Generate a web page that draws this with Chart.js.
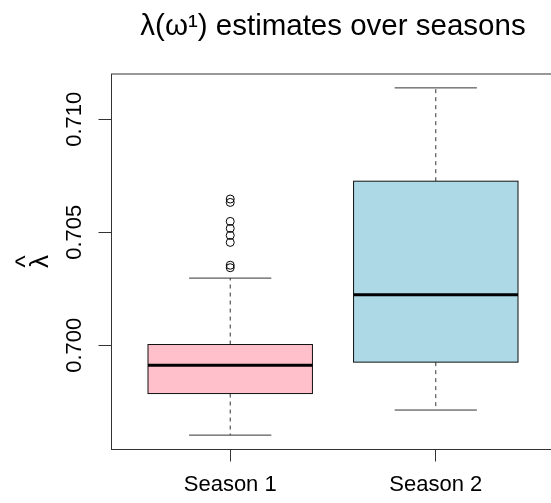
<!DOCTYPE html>
<html>
<head>
<meta charset="utf-8">
<script src="https://cdn.jsdelivr.net/npm/chart.js@4.4.1/dist/chart.umd.min.js"></script>
<style>
  html, body { margin: 0; padding: 0; overflow: hidden; background: #fff; }
  body { width: 551px; height: 503px; }
  canvas { display: block; }
</style>
</head>
<body>
<canvas id="myChart" width="560" height="503"></canvas>
<script>
// data
const seasons = ['Season 1', 'Season 2'];
const boxColors = ['#FFC0CB', '#ADD8E6'];
const lowerWhisker = [0.69602, 0.69713];
const q1 = [0.69786, 0.69925];
const medians = [0.69911, 0.70223];
const q3 = [0.70003, 0.70726];
const upperWhisker = [0.70297, 0.71139];
const outlierSeason = [1, 1, 1, 1, 1, 1, 1, 1];
const outlierValues = [0.70647, 0.70632, 0.70548, 0.70517, 0.70486, 0.70455, 0.70354, 0.70343];
const yTicks = [0.700, 0.705, 0.710];

// R-style axis limits (4% extension)
const allVals = [...lowerWhisker, ...upperWhisker, ...outlierValues];
const lo = Math.min(...allVals), hi = Math.max(...allVals);
const yMin = lo - 0.04 * (hi - lo);
const yMax = hi + 0.04 * (hi - lo);
const xMin = 0.5 - 0.04 * seasons.length;
const xMax = seasons.length + 0.5 + 0.04 * seasons.length;

Chart.defaults.font.family = '"Liberation Sans", Arial, sans-serif';
Chart.defaults.color = '#000';

const lineCol = '#333';

function seg(ctx, x1, y1, x2, y2) {
  ctx.beginPath();
  ctx.moveTo(x1, y1);
  ctx.lineTo(x2, y2);
  ctx.stroke();
}

// draws boxes, whiskers, staples and medians through the chart scales
const boxPlugin = {
  id: 'boxes',
  beforeDatasetsDraw(chart) {
    const { ctx, scales: { x, y } } = chart;
    ctx.save();
    seasons.forEach((s, i) => {
      const pos = i + 1;
      const cx = x.getPixelForValue(pos);
      const left = x.getPixelForValue(pos - 0.4);
      const right = x.getPixelForValue(pos + 0.4);
      const capL = x.getPixelForValue(pos - 0.2);
      const capR = x.getPixelForValue(pos + 0.2);
      const yTop = y.getPixelForValue(q3[i]);
      const yBot = y.getPixelForValue(q1[i]);
      const yUp = y.getPixelForValue(upperWhisker[i]);
      const yLo = y.getPixelForValue(lowerWhisker[i]);
      const yMed = y.getPixelForValue(medians[i]);

      ctx.strokeStyle = lineCol;
      ctx.lineWidth = 1;
      ctx.setLineDash([4, 4]);
      seg(ctx, cx, yTop, cx, yUp);
      seg(ctx, cx, yBot, cx, yLo);
      ctx.setLineDash([]);
      seg(ctx, capL, yUp, capR, yUp);
      seg(ctx, capL, yLo, capR, yLo);

      ctx.fillStyle = boxColors[i];
      ctx.fillRect(left, yTop, right - left, yBot - yTop);
      ctx.strokeStyle = '#111';
      ctx.strokeRect(left, yTop, right - left, yBot - yTop);

      ctx.strokeStyle = '#000';
      ctx.lineWidth = 3;
      seg(ctx, left, yMed, right, yMed);
    });
    ctx.restore();
  },
  afterDatasetsDraw(chart) {
    // top edge of the frame
    const { ctx, chartArea } = chart;
    ctx.save();
    ctx.strokeStyle = lineCol;
    ctx.lineWidth = 1;
    seg(ctx, chartArea.left, chartArea.top, chartArea.right, chartArea.top);
    ctx.restore();
  }
};

const ctx = document.getElementById('myChart').getContext('2d');
new Chart(ctx, {
  type: 'scatter',
  data: {
    datasets: [{
      label: 'outliers',
      data: outlierValues.map((v, k) => ({ x: outlierSeason[k], y: v })),
      pointStyle: 'circle',
      pointRadius: 4,
      borderColor: '#000',
      backgroundColor: 'rgba(0,0,0,0)',
      borderWidth: 1
    }]
  },
  options: {
    responsive: false,
    animation: false,
    events: [],
    layout: { padding: { left: 0, right: 3, top: 0, bottom: 0 } },
    plugins: {
      legend: { display: false },
      tooltip: { enabled: false },
      title: {
        display: true,
        text: 'λ(ω¹) estimates over seasons',
        fullSize: false,
        font: { size: 29.5, weight: 'normal' },
        color: '#000',
        padding: { top: 9.1, bottom: 29.5 }
      }
    },
    scales: {
      x: {
        type: 'linear',
        min: xMin,
        max: xMax,
        afterBuildTicks: s => { s.ticks = seasons.map((_, i) => ({ value: i + 1 })); },
        afterFit: s => { s.height = 54; },
        grid: { drawOnChartArea: false, drawTicks: true, tickLength: 12.5, color: lineCol },
        border: { display: true, color: lineCol, width: 1 },
        ticks: {
          autoSkip: false,
          maxRotation: 0,
          padding: 10.5,
          font: { size: 22 },
          color: '#000',
          callback: v => seasons[v - 1]
        }
      },
      y: {
        type: 'linear',
        min: yMin,
        max: yMax,
        afterBuildTicks: s => { s.ticks = yTicks.map(v => ({ value: v })); },
        afterFit: s => { s.width = 111; },
        grid: { drawOnChartArea: false, drawTicks: true, tickLength: 12.5, color: lineCol },
        border: { display: true, color: lineCol, width: 1 },
        ticks: {
          autoSkip: false,
          minRotation: 90,
          maxRotation: 90,
          crossAlign: 'center',
          padding: -4.4,
          font: { size: 22 },
          color: '#000',
          callback: v => v.toFixed(3)
        },
        title: {
          display: true,
          text: ['^', 'λ'],
          font: { size: 26, lineHeight: 0.54 },
          color: '#000',
          padding: { top: 20, bottom: 0 }
        }
      }
    }
  },
  plugins: [boxPlugin]
});
</script>
</body>
</html>
